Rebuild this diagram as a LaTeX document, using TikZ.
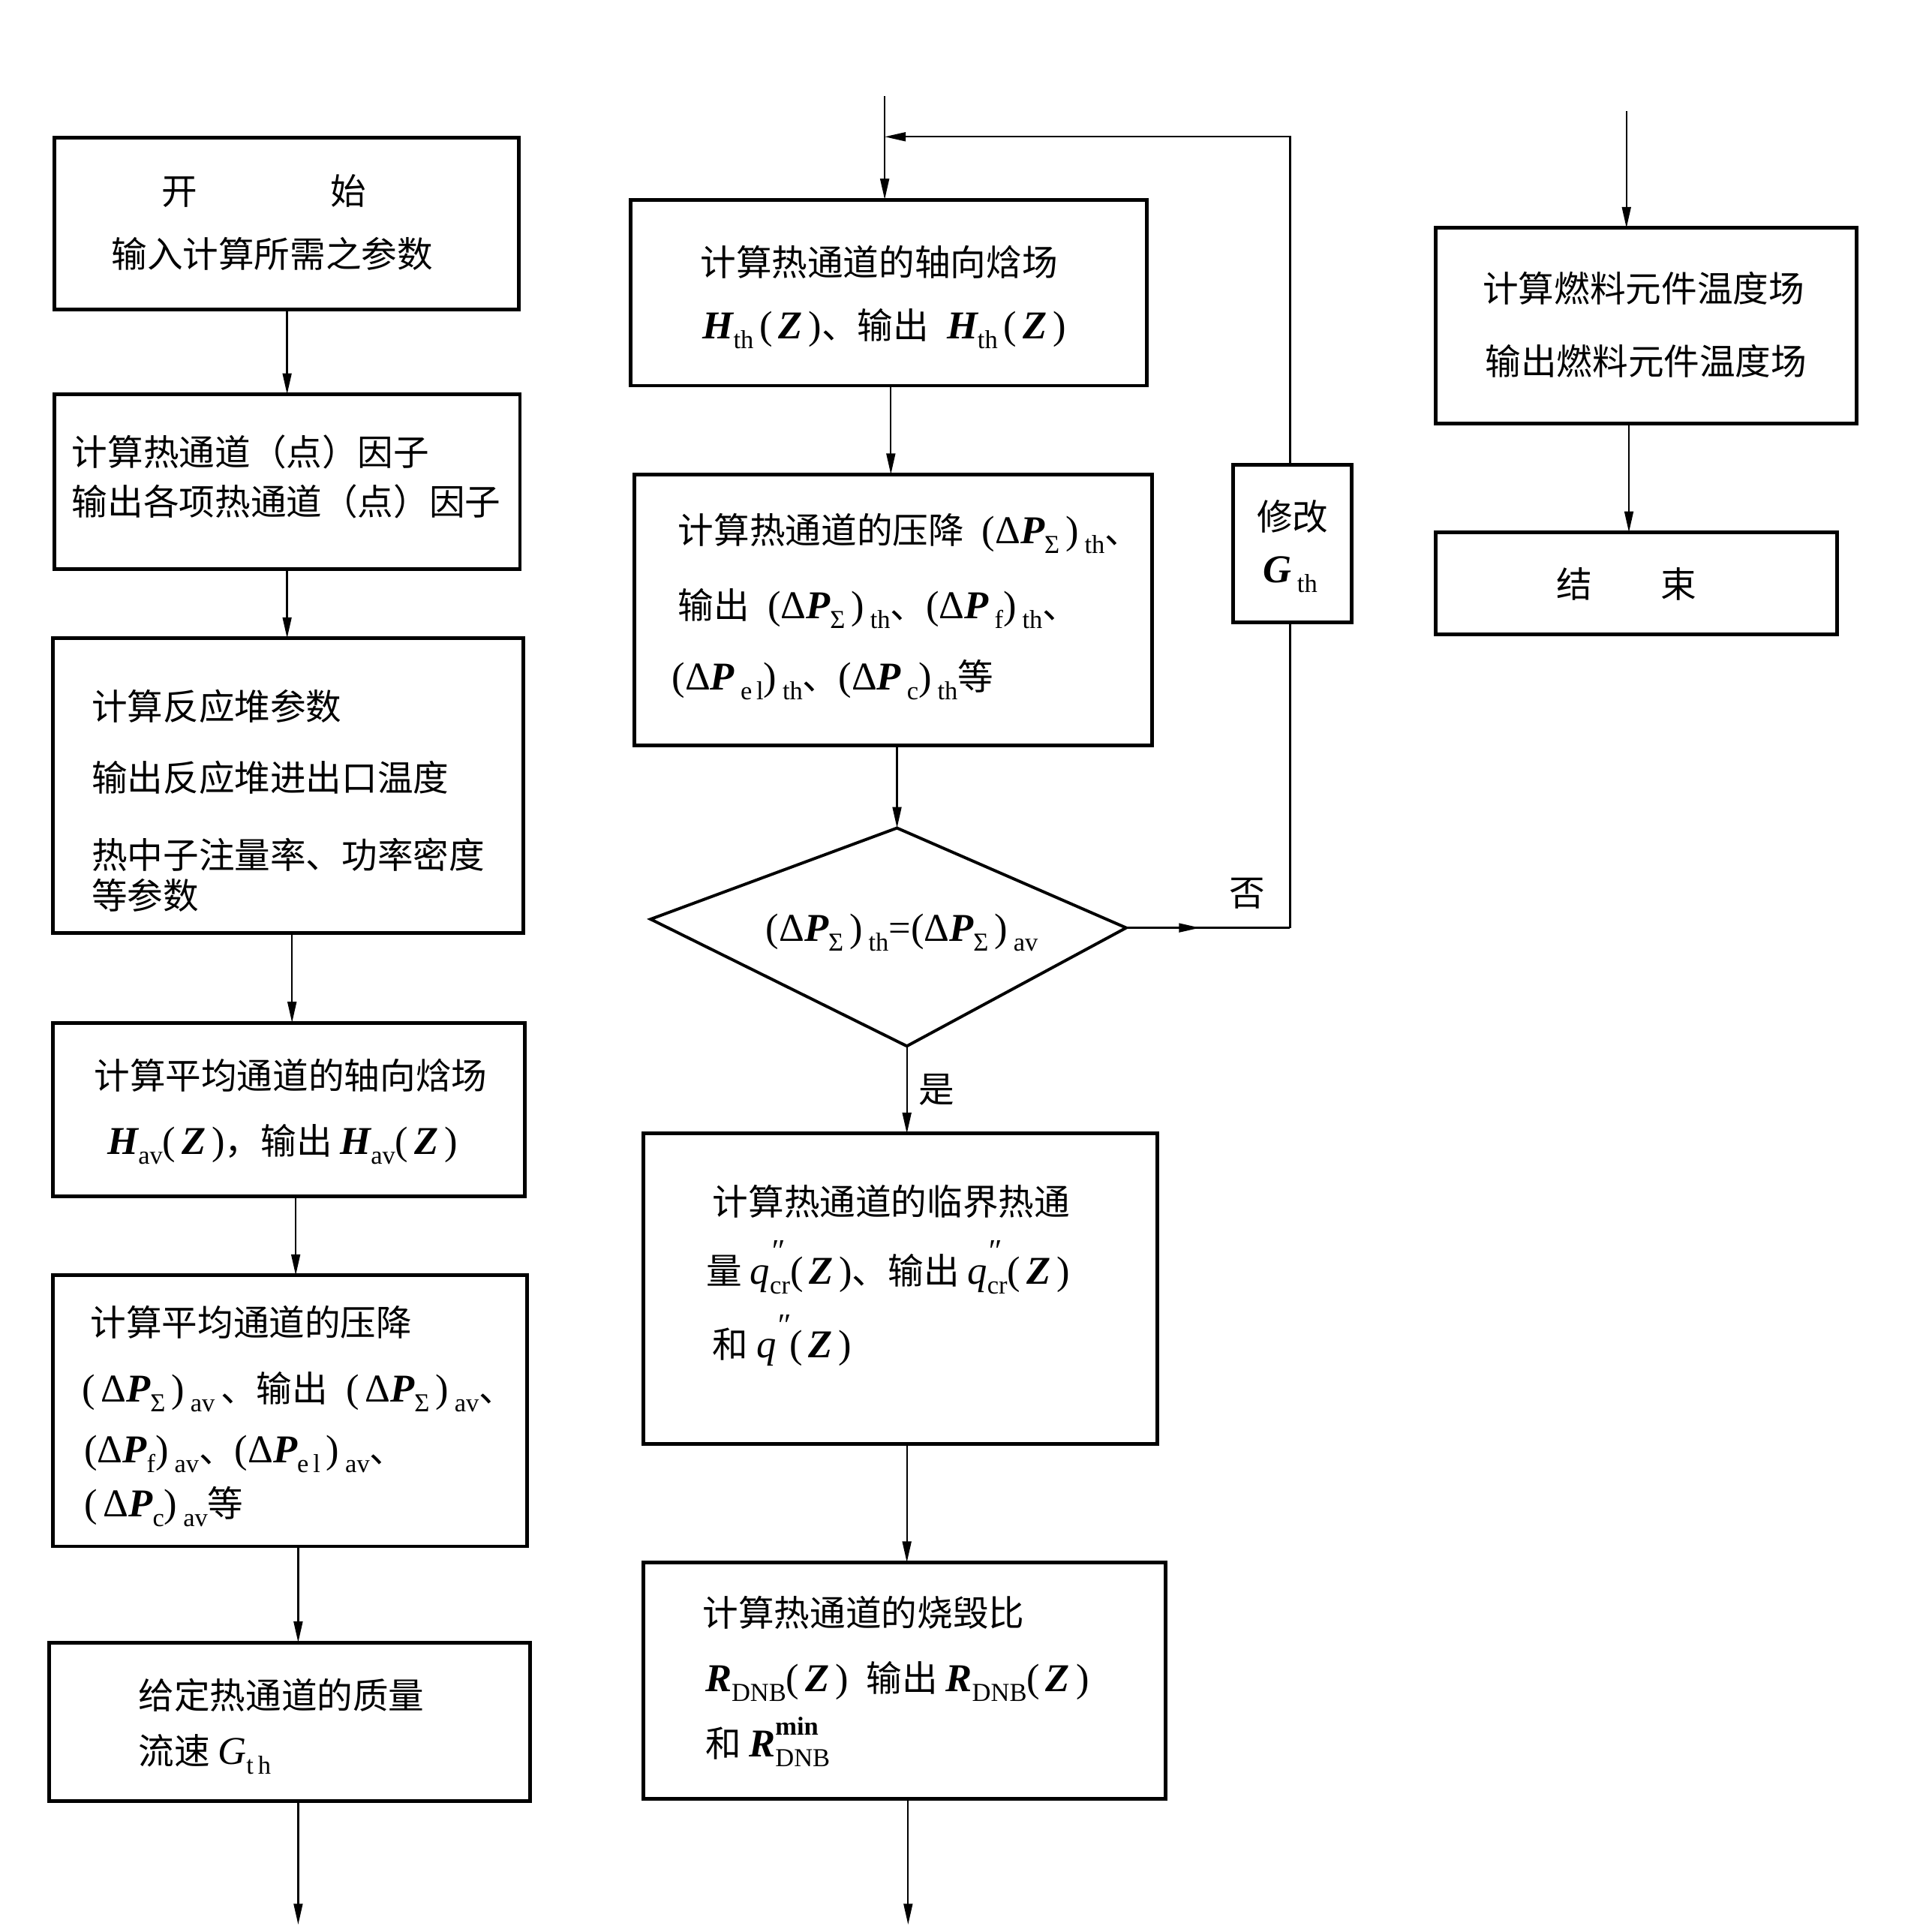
\documentclass[tikz,border=0pt]{standalone}
\usepackage{fontspec}
\setmainfont{Liberation Serif}
\newfontfamily\cjk{Noto Sans CJK SC}
\newfontfamily\tms{Liberation Serif}
\usetikzlibrary{arrows.meta,decorations.markings}

\newcommand\lat{\tms\fontsize{16}{16}\selectfont}
\newcommand\ti[1]{{\lat\itshape #1}}
\newcommand\tu[1]{{\lat #1}}
\newcommand\vb[1]{{\lat\bfseries\itshape #1}}
\newcommand\sbs[1]{\raisebox{-0.5ex}{\tms\fontsize{10.5}{10.5}\selectfont #1}}
\newcommand\spsb[2]{\rlap{\raisebox{1.15ex}{\tms\fontsize{10.5}{10.5}\selectfont #1}}\sbs{#2}}
\newcommand\dP{{\lat Δ}\vb{P}}
\newcommand\qpp[1]{\ti{q}\spsb{\fontsize{13}{13}\selectfont\itshape ″}{#1}}
\newcommand\pZ{\tu{(}\,\vb{Z}\,\tu{)}}

\tikzset{
  box/.style={draw, line width=1.5pt, inner sep=0pt, outer sep=0pt},
  txt/.style={anchor=base west, inner sep=0pt, font=\cjk\fontsize{14.5}{17}\selectfont},
  ctxt/.style={anchor=base, inner sep=0pt, font=\cjk\fontsize{14.5}{17}\selectfont},
  tip/.style={-{Triangle[length=8.5pt,width=3.6pt]}},
  arr/.style={line width=0.7pt, tip},
  plain/.style={line width=0.7pt},
  midarr/.style={line width=0.7pt, postaction={decorate},
    decoration={markings, mark=at position 0.45 with {\arrow{Triangle[length=8.5pt,width=3.6pt]}}}}
}
\newcommand\bx[5]{\node[box, minimum width={(#4-#2)*0.5pt}, minimum height={(#5-#3)*0.5pt}] (#1) at ({(#2+#4)/2},{(#3+#5)/2}) {};}

\begin{document}
\begin{tikzpicture}[x=0.5pt,y=-0.5pt]
\useasboundingbox (0,0) rectangle (1553,1568);
\fill[white] (0,0) rectangle (1553,1568);

% ---------- left column ----------
\bx{B1}{44}{112}{421}{251}
\bx{B2}{44}{320}{422}{462}
\bx{B3}{43}{518}{425}{757}
\bx{B4}{43}{830}{426}{971}
\bx{B5}{43}{1035}{428}{1255}
\bx{B6}{40}{1333}{430}{1462}

\node[txt] (t1a) at (131,166) {开\hspace{54pt}始};
\node[txt] (t1b) at (90,217) {输入计算所需之参数};
\node[txt] (t2a) at (58,378) {计算热通道（点）因子};
\node[txt] (t2b) at (58,418) {输出各项热通道（点）因子};
\node[txt] (t3a) at (74,584) {计算反应堆参数};
\node[txt] (t3b) at (74,642) {输出反应堆进出口温度};
\node[txt] (t3c) at (74,705) {热中子注量率、功率密度};
\node[txt] (t3d) at (74,738) {等参数};
\node[txt] (t4a) at (76,884) {计算平均通道的轴向焓场};
\node[txt] (t4b) at (87,937) {\vb{H}\sbs{av}\pZ，输出 \vb{H}\sbs{av}\pZ};
\node[txt] (t5a) at (73,1084) {计算平均通道的压降};
\node[txt] (t5b) at (66,1138) {\tu{(}\,\dP\sbs{Σ}\,\tu{)}\,\sbs{av}\,、输出\; \tu{(}\,\dP\sbs{Σ}\,\tu{)}\,\sbs{av}、};
\node[txt] (t5c) at (68,1187) {\tu{(}\dP\sbs{f}\tu{)}\,\sbs{av}、\tu{(}\dP\sbs{e\,l}\,\tu{)}\,\sbs{av}、};
\node[txt] (t5d) at (68,1231) {\tu{(}\,\dP\sbs{c}\tu{)}\,\sbs{av}等};
\node[txt] (t6a) at (112,1387) {给定热通道的质量};
\node[txt] (t6b) at (112,1432) {流速 \ti{G}\sbs{t\,h}};

\draw[arr] (B1.south -| 233,0) -- (B2.north -| 233,0);
\draw[arr] (B2.south -| 233,0) -- (B3.north -| 233,0);
\draw[arr] (B3.south -| 237,0) -- (B4.north -| 237,0);
\draw[arr] (B4.south -| 240,0) -- (B5.north -| 240,0);
\draw[arr] (B5.south -| 242,0) -- (B6.north -| 242,0);
\coordinate (Lout) at (242,1562);
\draw[arr] (B6.south -| Lout) -- (Lout);

% ---------- middle column ----------
\bx{M1}{512}{162}{931}{313}
\bx{M2}{515}{385}{935}{605}
\bx{M3}{522}{920}{939}{1172}
\bx{M4}{522}{1268}{946}{1460}

\coordinate (Dl) at (528,746);
\coordinate (Dt) at (728,672);
\coordinate (Dr) at (914,753);
\coordinate (Db) at (736,849);
\draw[line width=1.2pt, line join=miter] (Dl) -- (Dt) -- (Dr) -- (Db) -- cycle;
\node[ctxt] (Dtxt) at (732,764) {\tu{(}\dP\sbs{Σ}\,\tu{)}\,\sbs{th}\tu{=}\tu{(}\dP\sbs{Σ}\,\tu{)}\,\sbs{av}};

\node[txt] (m1a) at (568,224) {计算热通道的轴向焓场};
\node[txt] (m1b) at (570,275) {\vb{H}\sbs{th}\,\pZ、输出\; \vb{H}\sbs{th}\,\pZ};
\node[txt] (m2a) at (550,441) {计算热通道的压降\; \tu{(}\dP\sbs{Σ}\,\tu{)}\,\sbs{th}、};
\node[txt] (m2b) at (550,502) {输出\; \tu{(}\dP\sbs{Σ}\,\tu{)}\,\sbs{th}、\tu{(}\dP\,\sbs{f}\tu{)}\,\sbs{th}、};
\node[txt] (m2c) at (545,560) {\tu{(}\dP\,\sbs{e\,l}\tu{)}\,\sbs{th}、\tu{(}\dP\,\sbs{c}\tu{)}\,\sbs{th}等};
\node[txt] (m3a) at (578,986) {计算热通道的临界热通};
\node[txt] (m3b) at (573,1042) {量 \qpp{cr}\pZ、输出 \qpp{cr}\pZ};
\node[txt] (m3c) at (578,1102) {和 \ti{q}\raisebox{1.15ex}{\tms\itshape\fontsize{13}{13}\selectfont ″}\pZ};
\node[txt] (m4a) at (570,1320) {计算热通道的烧毁比};
\node[txt] (m4b) at (572,1373) {\vb{R}\sbs{DNB}\pZ\; 输出 \vb{R}\sbs{DNB}\pZ};
\node[txt] (m4c) at (572,1426) {和 \vb{R}\spsb{\bfseries min}{DNB}};

\coordinate (Mtop) at (718,78);
\draw[arr] (Mtop) -- (Mtop |- M1.north);
\draw[arr] (M1.south -| 723,0) -- (M2.north -| 723,0);
\draw[arr] (M2.south -| Dt) -- (Dt);
\draw[arr] (Db) -- (Db |- M3.north);
\draw[arr] (M3.south -| 736,0) -- (M4.north -| 736,0);
\coordinate (Mout) at (737,1562);
\draw[arr] (M4.south -| Mout) -- (Mout);

\node[ctxt] (yes) at (760,895) {是};

% ---------- feedback loop ----------
\bx{G}{1001}{377}{1097}{505}
\node[ctxt] (g1) at (1049,430) {修改};
\node[ctxt] (g2) at (1047,473) {\vb{G}\,\sbs{th}};
\coordinate (Fc) at (1047,753);
\coordinate (Ft) at (1047,111);
\coordinate (J) at (718,111);
\draw[midarr] (Dr) -- (Fc);
\draw[plain] (Fc) -- (Fc |- G.south);
\draw[arr] (Fc |- G.north) -- (Ft) -- (J);
\node[ctxt] (no) at (1012,735) {否};

% ---------- right column ----------
\bx{R1}{1165}{185}{1507}{344}
\bx{R2}{1165}{432}{1491}{515}
\node[txt] (r1a) at (1203,245) {计算燃料元件温度场};
\node[txt] (r1b) at (1205,304) {输出燃料元件温度场};
\node[ctxt] (r2a) at (1320,485) {结\hspace{28pt}束};
\coordinate (Rtop) at (1320,90);
\draw[arr] (Rtop) -- (Rtop |- R1.north);
\draw[arr] (R1.south -| 1322,0) -- (R2.north -| 1322,0);
\end{tikzpicture}
\end{document}
